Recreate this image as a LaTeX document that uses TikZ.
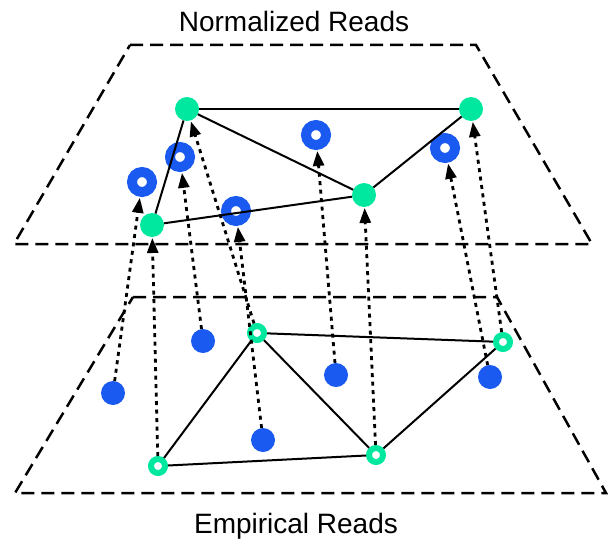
\documentclass[tikz,border=0pt]{standalone}
\usepackage{fontspec}
\setmainfont{Liberation Sans}
\usetikzlibrary{arrows.meta}
\definecolor{mint}{RGB}{0,232,160}
\definecolor{azure}{RGB}{26,90,240}
\tikzset{
	norm/.style={circle, fill=mint, minimum size=24pt, inner sep=0pt, outer sep=0pt},
	emp/.style={circle, draw=mint, fill=white, line width=6pt, minimum size=14pt, inner sep=0pt, outer sep=3pt},
	readring/.style={circle, draw=azure, fill=white, line width=10pt, minimum size=20pt, inner sep=0pt, outer sep=5pt},
	readdot/.style={circle, fill=azure, minimum size=24pt, inner sep=0pt, outer sep=0pt},
	plane/.style={dash pattern=on 13pt off 7pt, line width=2.5pt},
	link/.style={line width=2pt},
	lift/.style={-{Triangle[length=15pt,width=11pt]}, dash pattern=on 4pt off 4.5pt, line width=2.8pt, shorten >=1pt},
	title/.style={anchor=base, font=\fontsize{28}{33}\selectfont},
}

\begin{document}
\begin{tikzpicture}[x=1pt, y=-1pt]
		\useasboundingbox (0,0) rectangle (612,543);
		
		\draw [plane] (130,45) -- (476,45) -- (592,244) -- (14,244) -- cycle;
		\draw [plane] (133,297) -- (497,297) -- (606,493) -- (15,493) -- cycle;
		\node [title] (top) at (294,32) {Normalized Reads};
		\node [title] (bot) at (296,533) {Empirical Reads};
		
		\node [norm] (n1) at (187,109) {};
		\node [norm] (n2) at (152,225) {};
		\node [norm] (n3) at (471,109) {};
		\node [norm] (n4) at (364,195) {};
		\node [readring] (r1) at (142,182) {};
		\node [readring] (r2) at (180,157) {};
		\node [readring] (r3) at (236,211) {};
		\node [readring] (r4) at (316,135) {};
		\node [readring] (r5) at (445,148) {};
		
		\node [emp] (e1) at (257,333) {};
		\node [emp] (e2) at (158,466) {};
		\node [emp] (e3) at (376,455) {};
		\node [emp] (e4) at (503,342) {};
		\node [readdot] (d1) at (113,393) {};
		\node [readdot] (d2) at (203,341) {};
		\node [readdot] (d3) at (263,440) {};
		\node [readdot] (d4) at (336,375) {};
		\node [readdot] (d5) at (490,377) {};
		
		\draw [link] (n1) -- (n3);
		\draw [link] (n1) -- (n4);
		\draw [link] (n1) -- (n2);
		\draw [link] (n2) -- (n4);
		\draw [link] (n4) -- (n3);
		
		\draw [link] (e1) -- (e2);
		\draw [link] (e1) -- (e4);
		\draw [link] (e1) -- (e3);
		\draw [link] (e2) -- (e3);
		\draw [link] (e3) -- (e4);
		
		\draw [lift] (d1) -- (r1);
		\draw [lift] (e2) -- (n2);
		\draw [lift] (d2) -- (r2);
		\draw [lift] (e1) -- (n1);
		\draw [lift] (d3) -- (r3);
		\draw [lift] (d4) -- (r4);
		\draw [lift] (e3) -- (n4);
		\draw [lift] (d5) -- (r5);
		\draw [lift] (e4) -- (n3);
	\end{tikzpicture}
\end{document}
